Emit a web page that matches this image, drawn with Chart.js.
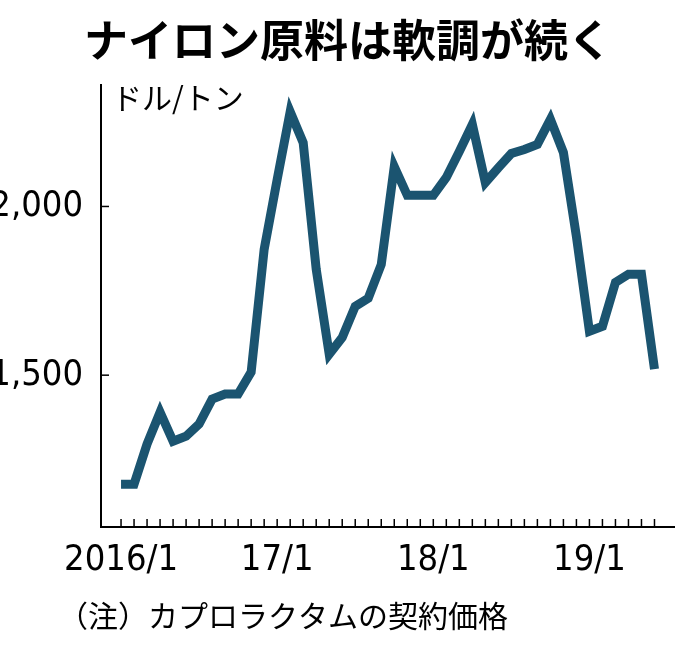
<!DOCTYPE html>
<html>
<head>
<meta charset="utf-8">
<script src="https://cdn.jsdelivr.net/npm/chart.js@4/dist/chart.umd.min.js"></script>
<style>
  html, body { margin: 0; padding: 0; background: #fff; }
  #wrap { width: 696px; height: 652px; }
</style>
</head>
<body>
<div id="wrap"><canvas id="chart"></canvas></div>
<script>
// monthly prices 2016/1 .. 2019/6 (USD/t)
const prices = [1177, 1177, 1296, 1390, 1304, 1319, 1355, 1429, 1444, 1444, 1509, 1873,
  2080, 2281, 2189, 1814, 1562, 1612, 1704, 1728, 1828, 2118, 2033, 2033,
  2033, 2086, 2163, 2243, 2071, 2115, 2157, 2169, 2184, 2258, 2160, 1911,
  1630, 1645, 1775, 1799, 1799, 1518];
const tickLabels = { 0: '2016/1', 12: '17/1', 24: '18/1', 36: '19/1' };
const yTicks = [1500, 2000];

const lineColor = '#1b5470';
const cjk = '"Noto Sans CJK JP", "Noto Sans", sans-serif';
const narrow = '"Liberation Sans Narrow", "DejaVu Sans Condensed", sans-serif';

const decor = {
  id: 'decor',
  afterDraw(chart) {
    const ctx = chart.ctx;
    const x = chart.scales.x, y = chart.scales.y;
    ctx.save();
    ctx.strokeStyle = '#000';
    ctx.lineWidth = 1.5;
    // inward ticks
    for (let i = 0; i < prices.length; i++) {
      const px = x.getPixelForValue(i);
      ctx.beginPath();
      ctx.moveTo(px, y.bottom);
      ctx.lineTo(px, y.bottom - 8);
      ctx.stroke();
    }
    yTicks.forEach(v => {
      const py = y.getPixelForValue(v);
      ctx.beginPath();
      ctx.moveTo(x.left, py);
      ctx.lineTo(x.left + 8, py);
      ctx.stroke();
    });
    ctx.fillStyle = '#000';
    ctx.textBaseline = 'middle';
    ctx.textAlign = 'center';
    ctx.font = 'bold 44px ' + cjk;
    ctx.fillText('ナイロン原料は軟調が続く', 348, 40);
    ctx.textAlign = 'left';
    ctx.font = '30px ' + cjk;
    ctx.fillText('ドル/トン', 112, 98);
    ctx.fillText('（注）カプロラクタムの契約価格', 58, 616);
    ctx.restore();
  }
};

new Chart(document.getElementById('chart'), {
  type: 'line',
  data: {
    datasets: [{
      data: prices.map((v, i) => ({ x: i, y: v })),
      borderColor: lineColor,
      borderWidth: 9,
      pointRadius: 0,
      tension: 0,
      borderJoinStyle: 'miter'
    }]
  },
  options: {
    responsive: true,
    maintainAspectRatio: false,
    animation: false,
    layout: { padding: { top: 85, right: 22, bottom: 75, left: 0 } },
    plugins: { legend: { display: false }, tooltip: { enabled: false } },
    scales: {
      x: {
        type: 'linear',
        min: -1.54,
        max: 42.5,
        afterFit: s => { s.height = 50; },
        afterBuildTicks: s => { s.ticks = Object.keys(tickLabels).map(k => ({ value: +k })); },
        grid: { display: false },
        border: { display: true, color: '#000', width: 2 },
        ticks: {
          autoSkip: false,
          maxRotation: 0,
          padding: 4,
          color: '#000',
          font: { family: narrow, size: 36 },
          callback: v => tickLabels[v] || ''
        }
      },
      y: {
        min: 1050,
        max: 2360,
        afterFit: s => { s.width = 101; },
        afterBuildTicks: s => { s.ticks = yTicks.map(v => ({ value: v })); },
        grid: { display: false },
        border: { display: true, color: '#000', width: 2 },
        ticks: {
          padding: 10,
          color: '#000',
          font: { family: narrow, size: 36 }
        }
      }
    }
  },
  plugins: [decor]
});
</script>
</body>
</html>
